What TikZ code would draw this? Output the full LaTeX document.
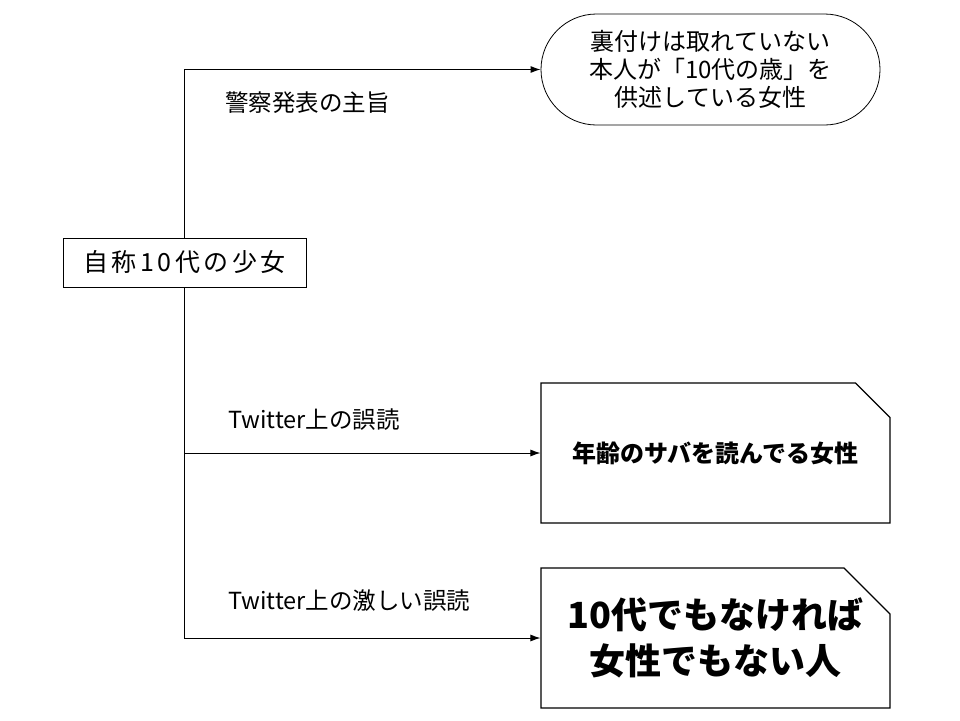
\documentclass[tikz,border=0pt]{standalone}
\usepackage{fontspec}
\setmainfont{Noto Sans CJK JP}
\usetikzlibrary{shapes.misc, arrows.meta, positioning}
\tikzset{
  src/.style={rectangle, draw, line width=1pt, minimum width=243pt, minimum height=49pt,
    inner sep=0pt, font=\fontsize{25}{29}\selectfont\addfontfeature{LetterSpace=14}},
  oval/.style={rounded rectangle, draw, line width=0.8pt, minimum width=339pt,
    minimum height=111pt, inner sep=0pt, align=center, font=\fontsize{24}{28}\selectfont},
  memo/.style={chamfered rectangle, chamfered rectangle corners=north east,
    chamfered rectangle xsep=23pt, chamfered rectangle ysep=23pt, draw, line width=1.1pt,
    minimum width=349pt, minimum height=140pt, inner sep=0pt, align=center},
  lbl/.style={anchor=west, inner sep=0pt, font=\fontsize{23.5}{27}\selectfont},
  arrow/.style={-{Latex[length=10pt,width=7pt]}, line width=1pt}
}
\begin{document}
\begin{tikzpicture}[x=1pt, y=-1pt]
  \useasboundingbox (0,0) rectangle (960,720);
  \node[src] (girl) at (184.5,262.5) {自称10代の少女};
  \node[oval] (claim) at (710.5,69.5) {裏付けは取れていない\\本人が「10代の歳」を\\供述している女性};
  \node[memo, font=\fontsize{24}{28}\selectfont\bfseries] (misread) at (715.5,453) {年齢のサバを読んでる女性};
  \node[memo, font=\fontsize{36}{46}\selectfont\bfseries] (wild) at (715.5,638) {10代でもなければ\\女性でもない人};
  \draw[arrow] (girl.north) |- (claim.west);
  \draw[arrow] (girl.south) |- (misread.west);
  \draw[arrow] (girl.south) |- (wild.west);
  % branch labels
  \node[lbl] (lpolice) at (225,103) {警察発表の主旨};
  \node[lbl] (ltw) at (228,420) {Twitter上の誤読};
  \node[lbl] (ltwhard) at (228,601) {Twitter上の激しい誤読};
\end{tikzpicture}
\end{document}
